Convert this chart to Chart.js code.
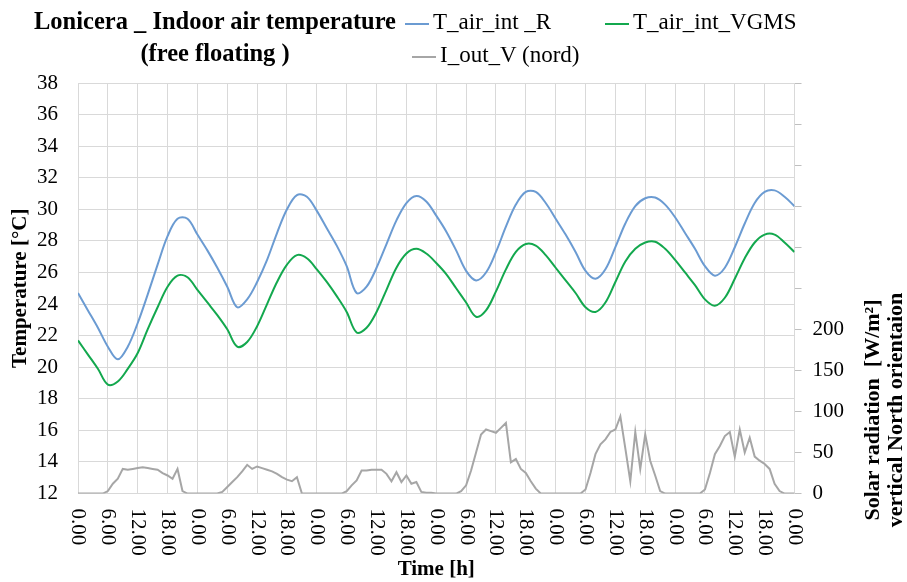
<!DOCTYPE html>
<html>
<head>
<meta charset="utf-8">
<script src="https://cdn.jsdelivr.net/npm/chart.js@4.4.1/dist/chart.umd.min.js"></script>
<style>
  body { margin: 0; background: #fff; }
  #wrap { position: relative; width: 907px; height: 582px; font-family: 'Liberation Serif', 'Times New Roman', serif; }
  #title { position: absolute; left: 16px; top: 5px; width: 398px; text-align: center; font-weight: bold; font-size: 24.5px; line-height: 32px; color: #000; }
  #legend { position: absolute; left: 0; top: 6px; font-size: 23px; line-height: 32px; color: #000; }
  .item { position: absolute; white-space: nowrap; }
  .item span { display: inline-block; width: 24px; height: 2px; vertical-align: middle; margin-right: 4px; }
</style>
</head>
<body>
<div id="wrap">
  <canvas id="chart" width="907" height="582"></canvas>
  <div id="title">Lonicera _ Indoor air temperature<br>(free floating )</div>
  <div id="legend"></div>
</div>
<script>
// hours 0..144, temperatures read every 2 h
const tempR = [
  24.7, 23.6, 22.5, 21.3, 20.5, 21.3, 22.8, 24.6, 26.5, 28.3, 29.4, 29.4,
  28.4, 27.4, 26.3, 25.1, 23.8, 24.3, 25.4, 26.8, 28.5, 30.0, 30.9, 30.8,
  29.9, 28.8, 27.7, 26.4, 24.7, 25.1, 26.3, 27.8, 29.3, 30.4, 30.85, 30.5,
  29.6, 28.6, 27.4, 26.1, 25.5, 26.0, 27.3, 28.9, 30.3, 31.1, 31.1, 30.4,
  29.4, 28.4, 27.3, 26.1, 25.6, 26.2, 27.6, 29.1, 30.2, 30.7, 30.75, 30.3,
  29.5, 28.5, 27.5, 26.4, 25.8, 26.3, 27.6, 29.1, 30.4, 31.1, 31.2, 30.8, 30.2
];
const tempVGMS = [
  21.7, 20.8, 19.9, 18.9, 19.1, 19.9, 20.9, 22.4, 23.8, 25.1, 25.8, 25.7,
  24.9, 24.1, 23.3, 22.4, 21.3, 21.6, 22.6, 24.0, 25.4, 26.5, 27.1, 26.9,
  26.2, 25.4, 24.5, 23.5, 22.2, 22.5, 23.5, 24.9, 26.3, 27.2, 27.5, 27.2,
  26.6, 25.9, 25.0, 24.1, 23.2, 23.6, 24.8, 26.2, 27.3, 27.8, 27.7, 27.1,
  26.3, 25.5, 24.7, 23.8, 23.5, 24.1, 25.4, 26.7, 27.5, 27.9, 27.95, 27.5,
  26.8, 26.0, 25.2, 24.3, 23.9, 24.4, 25.6, 26.9, 27.9, 28.4, 28.4, 27.9, 27.3
];
// solar radiation, hourly
const radNord = [
  0, 0, 0, 0, 0, 0, 3, 12, 18, 30, 29, 30, 31, 32, 31, 30, 29, 25, 22, 18, 30, 3, 0, 0,
  0, 0, 0, 0, 0, 2, 8, 14, 20, 27, 35, 30, 33, 31, 29, 27, 24, 20, 17, 15, 20, 0, 0, 0,
  0, 0, 0, 0, 0, 0, 3, 10, 16, 28, 28, 29, 29, 29, 24, 15, 26, 14, 22, 12, 14, 2, 1, 1,
  0, 0, 0, 0, 0, 3, 10, 28, 50, 72, 78, 76, 74, 80, 86, 38, 42, 30, 25, 15, 6, 0, 0, 0,
  0, 0, 0, 0, 0, 0, 5, 25, 48, 60, 66, 75, 78, 94, 55, 15, 75, 30, 72, 40, 22, 3, 0, 0,
  0, 0, 0, 0, 0, 0, 5, 25, 48, 58, 70, 75, 45, 78, 50, 68, 45, 40, 36, 30, 12, 3, 0, 0, 0
];
const hourLabels = ['0.00', '6.00', '12.00', '18.00'];

const serif = "'Liberation Serif', 'Times New Roman', serif";
const gridColor = '#d9d9d9';

// draws the x tick labels turned clockwise and the two axis titles that read upwards
const extraText = {
  id: 'extraText',
  afterDraw(chart) {
    const { ctx, chartArea, scales } = chart;
    const x = scales.x;
    ctx.save();
    ctx.font = '21px ' + serif;
    ctx.fillStyle = '#000';
    ctx.textAlign = 'left';
    ctx.textBaseline = 'middle';
    x.ticks.forEach(t => {
      ctx.save();
      ctx.translate(x.getPixelForValue(t.value), chartArea.bottom + 15);
      ctx.rotate(Math.PI / 2);
      ctx.fillText(t.label, 0, 0);
      ctx.restore();
    });
    ctx.font = 'bold 21px ' + serif;
    ctx.textAlign = 'center';
    ctx.save();
    ctx.translate(21, (chartArea.top + chartArea.bottom) / 2);
    ctx.rotate(-Math.PI / 2);
    ctx.fillText('Temperature [°C]', 0, 0);
    ctx.restore();
    ctx.font = 'bold 22px ' + serif;
    ctx.translate(884, 410);
    ctx.rotate(-Math.PI / 2);
    ctx.fillText('Solar radiation  [W/m²]', 0, -11);
    ctx.fillText('vertical North orientaion', 0, 12);
    ctx.restore();
  }
};

const chart = new Chart(document.getElementById('chart'), {
  type: 'line',
  data: {
    datasets: [
      { label: 'T_air_int _R', data: tempR.map((v, i) => ({ x: i * 2, y: v })),
        borderColor: '#6b9bd2', borderWidth: 2, yAxisID: 'y', tension: 0.35 },
      { label: 'T_air_int_VGMS', data: tempVGMS.map((v, i) => ({ x: i * 2, y: v })),
        borderColor: '#13a84e', borderWidth: 2, yAxisID: 'y', tension: 0.35 },
      { label: 'I_out_V (nord)', data: radNord.map((v, i) => ({ x: i, y: v })),
        borderColor: '#a6a6a6', borderWidth: 2, yAxisID: 'y1', tension: 0 }
    ]
  },
  options: {
    responsive: false,
    animation: false,
    devicePixelRatio: 1,
    layout: { padding: { top: 83, left: 17, right: 52, bottom: 0 } },
    elements: { point: { radius: 0 } },
    plugins: { legend: { display: false }, tooltip: { enabled: false } },
    scales: {
      x: {
        type: 'linear', min: 0, max: 144,
        ticks: { stepSize: 6, autoSkip: false, minRotation: 90, maxRotation: 90,
                 color: 'rgba(0,0,0,0)', font: { family: serif, size: 21 }, padding: 4,
                 callback: v => hourLabels[(v % 24) / 6] },
        grid: { color: gridColor, drawTicks: false },
        border: { color: gridColor },
        title: { display: true, text: 'Time [h]', color: '#000',
                 font: { family: serif, size: 21, weight: 'bold' }, padding: { top: 8, bottom: 0 } }
      },
      y: {
        position: 'left', min: 12, max: 38,
        ticks: { stepSize: 2, color: '#000', font: { family: serif, size: 21 }, padding: 20 },
        grid: { color: gridColor, drawTicks: false },
        border: { color: gridColor }
      },
      y1: {
        position: 'right', min: 0, max: 500,
        ticks: { stepSize: 50, color: '#000', font: { family: serif, size: 21 }, padding: 11,
                 callback: v => (v <= 200 ? v : '') },
        grid: { drawOnChartArea: false, color: '#bfbfbf', tickLength: 7 },
        border: { color: gridColor }
      }
    }
  },
  plugins: [extraText]
});

// legend built from the datasets
const legendPos = [[405, 0], [605, 0], [412, 33]];
const legend = document.getElementById('legend');
chart.data.datasets.forEach((ds, i) => {
  const d = document.createElement('div');
  d.className = 'item';
  d.style.left = legendPos[i][0] + 'px';
  d.style.top = legendPos[i][1] + 'px';
  d.innerHTML = '<span style="background:' + ds.borderColor + '"></span>' + ds.label;
  legend.appendChild(d);
});
</script>
</body>
</html>
